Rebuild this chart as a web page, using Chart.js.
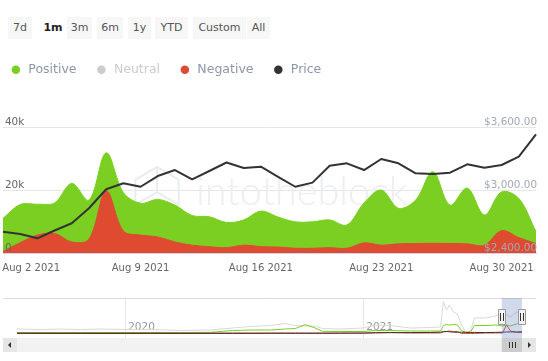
<!DOCTYPE html>
<html>
<head>
<meta charset="utf-8">
<script src="https://cdn.jsdelivr.net/npm/chart.js@4.4.0/dist/chart.umd.min.js"></script>
<style>
html,body{margin:0;padding:0;background:#fff;width:548px;height:361px;overflow:hidden;position:relative;font-family:"DejaVu Sans",sans-serif;}
.btn{position:absolute;top:17px;height:22px;line-height:22px;background:#f7f7f7;color:#555;font-size:11px;text-align:center;}
.btn.sel{background:#fff;color:#222;font-weight:bold;}
#main{position:absolute;left:-9px;top:0;}
#nav{position:absolute;left:0;top:290px;z-index:2;}
.track{position:absolute;left:3px;top:338px;width:533px;height:14px;background:#f2f2f2;z-index:1;}
.sbtn{position:absolute;top:338px;width:14px;height:14px;background:#e6e6e6;z-index:1;}
.arrow-l{position:absolute;left:5px;top:4px;width:0;height:0;border-top:3px solid transparent;border-bottom:3px solid transparent;border-right:3px solid #333;}
.arrow-r{position:absolute;left:6px;top:4px;width:0;height:0;border-top:3px solid transparent;border-bottom:3px solid transparent;border-left:3px solid #333;}
</style>
</head>
<body>
<div class="btn" style="left:8px;width:24px">7d</div>
<div class="btn sel" style="left:40px;width:26px">1m</div>
<div class="btn" style="left:67px;width:25px">3m</div>
<div class="btn" style="left:97px;width:26px">6m</div>
<div class="btn" style="left:128px;width:23px">1y</div>
<div class="btn" style="left:155px;width:33px">YTD</div>
<div class="btn" style="left:193px;width:53px">Custom</div>
<div class="btn" style="left:247px;width:23px">All</div>

<canvas id="main" width="557" height="280"></canvas>

<div class="track"></div>
<div class="sbtn" style="left:3px"><div class="arrow-l"></div></div>
<div class="sbtn" style="left:522px"><div class="arrow-r"></div></div>
<canvas id="nav" width="548" height="66"></canvas>

<script>
// ---------- main chart data (Aug 1 2021 .. Sep 1 2021, daily) ----------
const dates = ['Aug 1 2021','Aug 2 2021','Aug 3 2021','Aug 4 2021','Aug 5 2021','Aug 6 2021','Aug 7 2021','Aug 8 2021',
  'Aug 9 2021','Aug 10 2021','Aug 11 2021','Aug 12 2021','Aug 13 2021','Aug 14 2021','Aug 15 2021','Aug 16 2021',
  'Aug 17 2021','Aug 18 2021','Aug 19 2021','Aug 20 2021','Aug 21 2021','Aug 22 2021','Aug 23 2021','Aug 24 2021',
  'Aug 25 2021','Aug 26 2021','Aug 27 2021','Aug 28 2021','Aug 29 2021','Aug 30 2021','Aug 31 2021','Sep 1 2021'];
const positive = [11000,15400,15500,15900,22100,16800,31800,19200,15800,17000,15200,11900,11500,9700,10500,13300,
  11400,9900,9900,10500,8900,15900,20000,14200,16800,25800,15200,20600,12100,19400,17300,6800];
const negative = [500,3300,5700,6200,3500,4400,19700,7000,5700,5100,3500,2500,2000,1700,2500,2000,
  1900,1500,1500,1700,1500,3200,2500,2900,3000,3100,3000,2900,2500,7100,4900,3000];
const price = [2603,2581,2540,2614,2683,2826,3007,3064,3031,3133,3190,3102,3181,3262,3210,3222,
  3124,3031,3070,3231,3254,3190,3295,3254,3159,3152,3165,3245,3212,3238,3317,3530];
const neutral = []; // hidden series (legend only)
const xTickLabels = ['Aug 2 2021','Aug 9 2021','Aug 16 2021','Aug 23 2021','Aug 30 2021'];
const leftTicks = [0, 20000, 40000];
const rightTicks = [2400, 3000, 3600];

// ---------- navigator data (decimal year) ----------
const navYears = [2019.546,2019.643,2019.727,2019.811,2019.895,2020.000,2020.105,2020.231,2020.357,2020.450,
  2020.525,2020.609,2020.672,2020.714,2020.756,2020.798,2020.828,2020.903,2021.000,2021.050,2021.113,2021.197,
  2021.282,2021.324,2021.336,2021.349,2021.361,2021.378,2021.395,2021.412,2021.429,2021.450,2021.466,2021.513,
  2021.555,2021.584,2021.601,2021.618,2021.643,2021.666];
const navNeutral = [9000,8000,9000,8000,9000,8000,8000,6000,7000,11000,14000,16000,20000,16000,15000,15000,10000,
  9000,11000,17000,16000,11000,12000,13000,64000,47000,57000,43000,39000,17000,3000,5000,31000,31000,35000,41000,
  37000,33000,43000,35000];
const navPositive = [2000,2000,2000,2000,2000,2000,2000,2000,2400,6000,7000,7000,9000,10000,17600,11000,4400,4000,
  4000,6000,6000,5000,5000,5000,16000,18000,17000,18000,17000,6000,2000,3000,16000,16000,17000,15000,17000,15000,
  19000,23000];
const navNegative = [1000,1000,1000,1000,1000,1000,1000,1000,1000,1000,1000,1000,1000,1000,1000,1000,1000,1000,
  1000,2000,2000,1000,1000,1000,4000,4000,5000,4000,4000,0,0,0,0,1000,1000,1000,17000,5000,2000,2000];
const navPrice = [220,190,180,180,150,130,230,130,190,230,240,390,430,380,350,380,400,570,740,1100,1700,1800,
  2100,2700,3400,3900,3500,2700,2400,2600,2400,2000,2200,1900,2300,2600,3000,3200,3200,3530];
const navYearTicks = [2020, 2021];
const navSpan = [2019.546, 2021.666];
const selectedRange = [2021.581, 2021.666]; // Aug 1 2021 .. Sep 1 2021

// ---------- styles ----------
const GREEN = '#7bcf22', RED = '#de4b30', DARK = '#333333', LIGHT = '#cccccc';
const FONT = '"DejaVu Sans", sans-serif';
Chart.defaults.font.family = FONT;
Chart.defaults.animation = false;

const legendOrder = ['Positive','Neutral','Negative','Price'];
const legendColors = {Positive: GREEN, Neutral: LIGHT, Negative: RED, Price: DARK};

const legendHeight = {
  id: 'legendHeight',
  beforeInit(chart) {
    const lg = chart.legend;
    const orig = lg.fit;
    lg.fit = function () { orig.call(this); this.height = 82; };
  }
};

const watermark = {
  id: 'watermark',
  beforeDatasetsDraw(chart) {
    const {ctx, chartArea: a} = chart;
    const w = a.right - a.left, h = a.bottom - a.top;
    ctx.save();
    const cx = a.left + 0.289 * w, cy = a.top + 0.516 * h, r = 25;
    ctx.strokeStyle = '#e9ecf1';
    ctx.lineWidth = 2;
    ctx.beginPath();
    for (let k = 0; k < 6; k++) {
      const ang = Math.PI / 6 + k * Math.PI / 3;
      const px = cx + r * Math.cos(ang), py = cy + r * Math.sin(ang);
      if (k === 0) ctx.moveTo(px, py); else ctx.lineTo(px, py);
    }
    ctx.closePath();
    ctx.stroke();
    ctx.beginPath();
    for (const ang of [Math.PI / 6, Math.PI * 5 / 6, Math.PI * 3 / 2]) {
      ctx.moveTo(cx, cy);
      ctx.lineTo(cx + r * Math.cos(ang), cy + r * Math.sin(ang));
    }
    ctx.stroke();
    const txt = 'intotheblock';
    ctx.font = '300 40px Lato, "Open Sans", sans-serif';
    const tw = ctx.measureText(txt).width;
    const size = 40 * 212 / tw;
    ctx.font = '300 ' + size.toFixed(1) + 'px Lato, "Open Sans", sans-serif';
    ctx.fillStyle = '#eceef2';
    ctx.textBaseline = 'alphabetic';
    ctx.fillText(txt, a.left + 0.362 * w, a.top + 0.62 * h);
    ctx.restore();
  }
};

new Chart(document.getElementById('main'), {
  type: 'line',
  data: {
    labels: dates,
    datasets: [
      {label: 'Price', data: price, yAxisID: 'yP', borderColor: DARK, borderWidth: 2, tension: 0,
       pointRadius: 0, fill: false, borderJoinStyle: 'round'},
      {label: 'Negative', data: negative, yAxisID: 'y', borderColor: RED, backgroundColor: RED, borderWidth: 1,
       tension: 0.35, pointRadius: 0, fill: 'origin'},
      {label: 'Positive', data: positive, yAxisID: 'y', borderColor: GREEN, backgroundColor: GREEN, borderWidth: 1,
       tension: 0.35, pointRadius: 0, fill: 'origin'},
      {label: 'Neutral', data: neutral, yAxisID: 'y', borderColor: LIGHT, backgroundColor: LIGHT, hidden: true,
       pointRadius: 0, fill: 'origin'}
    ]
  },
  options: {
    responsive: false,
    animation: false,
    events: [],
    layout: {padding: {top: 45, left: 0, right: 0, bottom: 0}},
    plugins: {
      tooltip: {enabled: false},
      legend: {
        display: true, position: 'top', align: 'start',
        labels: {
          usePointStyle: true, pointStyle: 'circle', boxWidth: 12.5, boxHeight: 6, padding: 18.6,
          font: {family: FONT, size: 12.5}, color: '#8d96a8',
          generateLabels(chart) {
            return legendOrder.map(name => {
              const i = chart.data.datasets.findIndex(d => d.label === name);
              const muted = !!chart.data.datasets[i].hidden;
              return {text: name, fillStyle: legendColors[name], strokeStyle: legendColors[name], lineWidth: 0,
                pointStyle: 'circle', hidden: false, fontColor: muted ? '#cccccc' : '#8d96a8', datasetIndex: i};
            });
          }
        }
      }
    },
    scales: {
      x: {
        type: 'category', offset: false,
        grid: {display: false, drawTicks: false},
        border: {display: true, color: '#ccd6eb', width: 1},
        ticks: {
          autoSkip: false, maxRotation: 0, minRotation: 0, padding: 9, color: '#666666',
          font: {family: FONT, size: 10},
          callback(v, i) {
            const lab = dates[i];
            if (!xTickLabels.includes(lab)) return '';
            return i === 1 ? '\u2002\u2002\u2002\u2002\u2009' + lab : lab;
          }
        },
        afterFit(s) { s.height = 27; }
      },
      y: {
        position: 'left', min: 0, max: 40000,
        afterBuildTicks(s) { s.ticks = leftTicks.map(v => ({value: v})); },
        grid: {color: '#e6e6e6', drawTicks: false},
        border: {display: false},
        ticks: {display: false},
        afterFit(s) { s.width = 0; }
      },
      yL: {
        position: 'left', min: 0, max: 40000,
        afterBuildTicks(s) { s.ticks = leftTicks.map(v => ({value: v})); },
        grid: {display: false, drawTicks: false},
        border: {display: false},
        ticks: {z: 1, mirror: true, padding: 2, color: '#666666', font: {family: FONT, size: 10.4, lineHeight: 1.0},
          callback(v) { return [v === 0 ? '0' : (v / 1000) + 'k', '']; }},
        afterFit(s) { s.width = 12; }
      },
      yP: {
        position: 'right', min: 2400, max: 3600,
        afterBuildTicks(s) { s.ticks = rightTicks.map(v => ({value: v})); },
        grid: {display: false, drawTicks: false},
        border: {display: false},
        ticks: {display: false},
        afterFit(s) { s.width = 0; }
      },
      yPL: {
        position: 'right', min: 2400, max: 3600,
        afterBuildTicks(s) { s.ticks = rightTicks.map(v => ({value: v})); },
        grid: {display: false, drawTicks: false},
        border: {display: false},
        ticks: {z: 1, mirror: true, padding: 1, color: '#a3a9b5', font: {family: FONT, size: 10.4, lineHeight: 1.0},
          callback(v) { return ['$' + v.toLocaleString('en-US', {minimumFractionDigits: 2, maximumFractionDigits: 2}), '']; }},
        afterFit(s) { s.width = 12; }
      }
    }
  },
  plugins: [legendHeight, watermark]
});

// ---------- navigator ----------
const navChrome = {
  id: 'navChrome',
  afterDraw(chart) {
    const {ctx, chartArea: a} = chart;
    const xs = chart.scales.x;
    const x0 = xs.getPixelForValue(selectedRange[0]);
    const x1 = xs.getPixelForValue(selectedRange[1]);
    ctx.save();
    ctx.strokeStyle = '#dddddd';
    ctx.lineWidth = 1;
    ctx.beginPath();
    ctx.moveTo(3, a.top + 0.5);
    ctx.lineTo(536, a.top + 0.5);
    ctx.stroke();
    ctx.fillStyle = 'rgba(102,133,194,0.3)';
    ctx.fillRect(x0, a.top, x1 - x0, a.bottom - a.top);
    const hy = a.top + 11, hh = 15;
    for (const hx of [x0, x1]) {
      ctx.fillStyle = '#f2f2f2';
      ctx.strokeStyle = '#999999';
      ctx.lineWidth = 1;
      ctx.beginPath();
      ctx.rect(Math.round(hx) - 3.5, hy + 0.5, 7, hh);
      ctx.fill();
      ctx.stroke();
      ctx.strokeStyle = '#333333';
      ctx.beginPath();
      ctx.moveTo(Math.round(hx) - 1.5, hy + 4); ctx.lineTo(Math.round(hx) - 1.5, hy + 12);
      ctx.moveTo(Math.round(hx) + 1.5, hy + 4); ctx.lineTo(Math.round(hx) + 1.5, hy + 12);
      ctx.stroke();
    }
    const ty = a.bottom, th = 14;
    ctx.fillStyle = '#cccccc';
    ctx.fillRect(x0, ty, x1 - x0, th);
    const mx = Math.round((x0 + x1) / 2);
    ctx.strokeStyle = '#333333';
    ctx.beginPath();
    for (const d of [-3, 0, 3]) {
      ctx.moveTo(mx + d + 0.5, ty + 4); ctx.lineTo(mx + d + 0.5, ty + 10);
    }
    ctx.stroke();
    ctx.restore();
  }
};

const navPts = arr => navYears.map((x, i) => ({x, y: arr[i]}));
new Chart(document.getElementById('nav'), {
  type: 'line',
  data: {
    datasets: [
      {label: 'Price', data: navPts(navPrice), borderColor: DARK, borderWidth: 1, pointRadius: 0, tension: 0, fill: false},
      {label: 'Negative', data: navPts(navNegative), borderColor: RED, borderWidth: 1, pointRadius: 0, tension: 0, fill: false},
      {label: 'Positive', data: navPts(navPositive), borderColor: GREEN, borderWidth: 1, pointRadius: 0, tension: 0, fill: false},
      {label: 'Neutral', data: navPts(navNeutral), borderColor: '#d9d9d9', borderWidth: 1, pointRadius: 0, tension: 0, fill: false}
    ]
  },
  options: {
    responsive: false,
    animation: false,
    events: [],
    layout: {padding: {top: 8, bottom: 18, left: 17, right: 26}},
    plugins: {legend: {display: false}, tooltip: {enabled: false}},
    scales: {
      x: {
        type: 'linear', min: navSpan[0], max: navSpan[1],
        afterBuildTicks(s) { s.ticks = navYearTicks.map(v => ({value: v})); },
        grid: {color: '#e6e6e6', drawTicks: false},
        border: {display: false},
        ticks: {mirror: true, align: 'start', padding: 4, labelOffset: 3, maxRotation: 0, minRotation: 0, color: '#999999',
          font: {family: FONT, size: 10.5}, callback(v) { return String(v); }},
        afterFit(s) { s.height = 0; }
      },
      y: {display: false, min: -9000, max: 71000}
    }
  },
  plugins: [navChrome]
});
</script>
</body>
</html>
